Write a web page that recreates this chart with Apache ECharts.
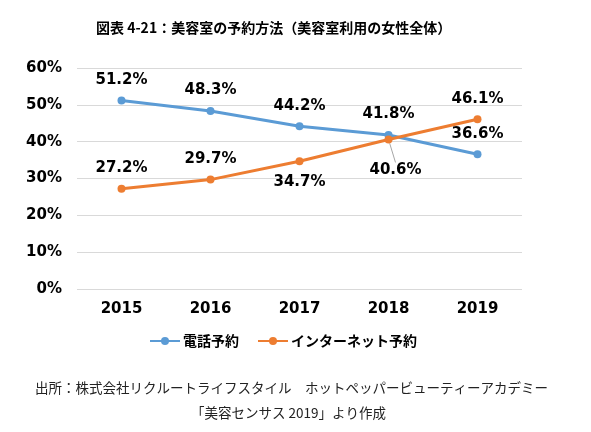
<!DOCTYPE html>
<html><head><meta charset="utf-8">
<script src="https://cdn.jsdelivr.net/npm/echarts@6/dist/echarts.min.js"></script>
<style>html,body{margin:0;padding:0;background:#fff}#c{width:591px;height:432px}</style>
</head><body><div id="c"></div>
<script>
const categories = ['2015','2016','2017','2018','2019'];
const phone = [51.2, 48.3, 44.2, 41.8, 36.6];
const internet = [27.2, 29.7, 34.7, 40.6, 46.1];
const yTicks = [0, 10, 20, 30, 40, 50, 60];
const seriesNames = ['電話予約', 'インターネット予約'];
const titleText = '図表 4-21：美容室の予約方法（美容室利用の女性全体）';
const source1 = '出所：株式会社リクルートライフスタイル　ホットペッパービューティーアカデミー';
const source2 = '「美容センサス 2019」より作成';

const chart = echarts.init(document.getElementById('c'));
const lblFont = {fontFamily:'"DejaVu Sans", Verdana, sans-serif', fontWeight:'bold', fontSize:15, color:'#000'};
const internetPos = ['top','top','bottom','bottom','top'];
const internetOff = [[0,0],[0,0],[6,-7],[0,0],[0,0]];
chart.setOption({
  animation:false,
  title:[
    {text:titleText, left:91, top:16, textStyle:{fontFamily:'"Noto Sans CJK JP"', fontWeight:'bold', fontSize:14, color:'#000'}},
    {text:source1, left:30, top:376, textStyle:{fontFamily:'"Noto Sans CJK JP"', fontWeight:'normal', fontSize:13.5, color:'#222'}},
    {text:source2, left:186, top:401, textStyle:{fontFamily:'"Noto Sans CJK JP"', fontWeight:'normal', fontSize:13.5, color:'#222'}}
  ],
  grid:{left:77, right:69, top:68, bottom:143},
  legend:{top:329, left:144, itemGap:18, itemWidth:30, itemHeight:10,
    textStyle:{fontFamily:'"Noto Sans CJK JP"', fontWeight:'bold', fontSize:14, color:'#000', padding:[0,0,0,-2]},
    data:seriesNames},
  xAxis:{type:'category', data:categories, boundaryGap:true,
    axisLine:{show:false}, axisTick:{show:false},
    axisLabel:{margin:13, fontFamily:'"DejaVu Sans", Verdana, sans-serif', fontWeight:'bold', fontSize:15, color:'#000'}},
  yAxis:{type:'value', min:0, max:60, interval:10,
    axisLine:{show:false}, axisTick:{show:false},
    splitLine:{lineStyle:{color:'#d9d9d9', width:1}},
    axisLabel:{margin:15, formatter:v=>yTicks.includes(v)?v+'%':'', fontFamily:'"DejaVu Sans", Verdana, sans-serif', fontWeight:'bold', fontSize:15, color:'#000'}},
  series:[
    {name:seriesNames[0], type:'line', data:phone, symbol:'circle', symbolSize:8,
      lineStyle:{width:3, color:'#5B9BD5'}, itemStyle:{color:'#5B9BD5'},
      label:{show:true, position:'top', distance:9, formatter:p=>p.value.toFixed(1)+'%', ...lblFont}},
    {name:seriesNames[1], type:'line',
      data:internet.map((v,i)=>({value:v, label:{position:internetPos[i], offset:internetOff[i]},
        labelLine: i===3 ? {show:true, lineStyle:{color:'#a6a6a6', width:1}} : {show:false}})),
      symbol:'circle', symbolSize:8,
      lineStyle:{width:3, color:'#ED7D31'}, itemStyle:{color:'#ED7D31'},
      labelLayout: p => (p.dataIndex===3 ? {dx:7, dy:10} : {}),
      label:{show:true, distance:9, formatter:p=>p.value.toFixed(1)+'%', ...lblFont}}
  ]
});
</script></body></html>
